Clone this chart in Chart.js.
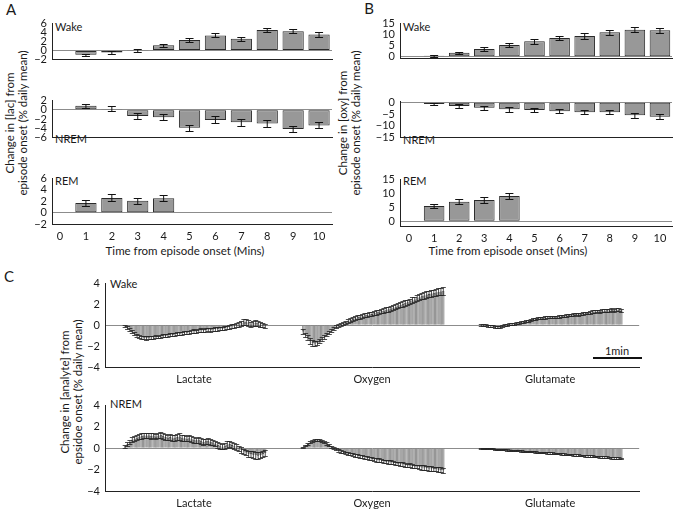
<!DOCTYPE html>
<html>
<head>
<meta charset="utf-8">
<script src="https://cdn.jsdelivr.net/npm/chart.js@4.4.1/dist/chart.umd.min.js"></script>
<style>
  body { margin: 0; background: #fff; }
  #fig { position: relative; width: 673px; height: 509px; overflow: hidden; font-family: Lato, sans-serif; color: #1a1a1a; }
  .t { position: absolute; font-size: 11px; line-height: 12px; white-space: nowrap; transform: translateY(-50%); }
  .c { position: absolute; font-size: 11px; line-height: 12px; white-space: nowrap; transform: translate(-50%, -50%); }
  .letter { font-size: 15px; line-height: 16px; }
  .ytitle { position: absolute; font-size: 11.5px; line-height: 12.5px; text-align: center; white-space: nowrap; transform: translate(-50%, -50%) rotate(-90deg); }
  canvas { position: absolute; }
</style>
</head>
<body>
<div id="fig">
  <div class="c letter" style="left:11px;top:9px">A</div>
  <div class="c letter" style="left:369px;top:8px">B</div>
  <div class="c letter" style="left:9px;top:276px">C</div>

  <div class="t" style="left:55px;top:27px">Wake</div>
  <div class="t" style="left:55px;top:139px">NREM</div>
  <div class="t" style="left:55px;top:181px">REM</div>
  <div class="t" style="left:403px;top:27px">Wake</div>
  <div class="t" style="left:403px;top:140px">NREM</div>
  <div class="t" style="left:403px;top:181px">REM</div>
  <div class="t" style="left:110px;top:284px">Wake</div>
  <div class="t" style="left:110px;top:404px">NREM</div>

  <div class="c" style="left:185px;top:251px;font-size:11.5px">Time from episode onset (Mins)</div>
  <div class="c" style="left:508px;top:251px;font-size:11.5px">Time from episode onset (Mins)</div>

  <div class="ytitle" style="left:16px;top:123px">Change in [lac] from<br>episode onset (% daily mean)</div>
  <div class="ytitle" style="left:349px;top:123px">Change in [oxy] from<br>episode onset (% daily mean)</div>
  <div class="ytitle" style="left:71px;top:392px">Change in [analyte] from<br>epsidoe onset (% daily mean)</div>

  <div class="c" style="left:617px;top:351px">1min</div>
  <div style="position:absolute;left:593px;top:357px;width:49px;height:2px;background:#111"></div>
</div>

<script>
Chart.defaults.font.family = 'Lato, sans-serif';
Chart.defaults.font.size = 11;
Chart.defaults.color = '#1a1a1a';

// --- panels A and B: minutes from episode onset
const minuteTicks = [0, 1, 2, 3, 4, 5, 6, 7, 8, 9, 10];
const minutes = [1, 2, 3, 4, 5, 6, 7, 8, 9, 10];
const remMinutes = [1, 2, 3, 4];

const lacWake = [-0.95, -0.45, -0.05, 1.15, 2.35, 3.35, 2.6, 4.55, 4.3, 3.55];
const lacWakeErr = [0.25, 0.3, 0.35, 0.35, 0.4, 0.45, 0.5, 0.4, 0.4, 0.5];
const lacNrem = [0.9, 0.2, -1.35, -1.6, -3.9, -2.2, -2.7, -3.0, -4.2, -3.4];
const lacNremErr = [0.45, 0.55, 0.55, 0.6, 0.65, 0.75, 0.8, 0.8, 0.7, 0.65];
const lacRem = [1.7, 2.6, 2.1, 2.55];
const lacRemErr = [0.55, 0.6, 0.5, 0.55];

const oxyWake = [0.5, 1.85, 3.5, 5.4, 7.0, 8.5, 9.4, 11.1, 12.2, 12.0];
const oxyWakeErr = [0.4, 0.5, 0.9, 0.9, 1.0, 1.0, 1.2, 1.2, 1.2, 1.2];
const oxyNrem = [-0.7, -1.6, -2.3, -3.0, -3.3, -3.8, -4.2, -4.2, -5.5, -6.2];
const oxyNremErr = [0.5, 0.7, 0.8, 1.0, 1.0, 0.9, 1.0, 0.9, 1.0, 1.0];
const oxyRem = [5.5, 7.0, 7.7, 9.1];
const oxyRemErr = [0.8, 0.9, 1.1, 1.0];

const lacTicksWake = [6, 4, 2, 0, -2];
const lacTicksNrem = [2, 0, -2, -4, -6];
const oxyTicksWake = [15, 10, 5, 0];
const oxyTicksNrem = [0, -5, -10, -15];

// --- panel C: time course after onset, one bar per sample
const groupNames = ['Lactate', 'Oxygen', 'Glutamate'];
const cTicks = [4, 2, 0, -2, -4];

const cWakeLac = [
  -0.1, -0.2, -0.4, -0.6, -0.8, -0.95, -1.05, -1.15, -1.2, -1.22,
  -1.2, -1.15, -1.17, -1.1, -1.12, -1.05, -1.0, -1.02, -0.95, -0.9,
  -0.92, -0.85, -0.8, -0.82, -0.75, -0.7, -0.72, -0.65, -0.6, -0.55,
  -0.6, -0.5, -0.45, -0.5, -0.45, -0.4, -0.45, -0.4, -0.35, -0.35,
  -0.3, -0.32, -0.25, -0.2, -0.15, -0.1, -0.05, 0.0, 0.1, 0.2,
  0.3, 0.35, 0.2, 0.1, 0.2, 0.25, 0.2, 0.1, 0.05, -0.05];
const cWakeLacErr = [
  0.1, 0.12, 0.12, 0.14, 0.14, 0.15, 0.15, 0.15, 0.15, 0.15,
  0.15, 0.15, 0.15, 0.15, 0.14, 0.14, 0.14, 0.14, 0.14, 0.14,
  0.14, 0.14, 0.14, 0.14, 0.14, 0.15, 0.15, 0.15, 0.15, 0.15,
  0.15, 0.15, 0.15, 0.15, 0.15, 0.15, 0.15, 0.15, 0.16, 0.16,
  0.16, 0.16, 0.17, 0.17, 0.18, 0.18, 0.2, 0.2, 0.22, 0.24,
  0.28, 0.3, 0.28, 0.25, 0.25, 0.28, 0.25, 0.22, 0.2, 0.2];

const cWakeOxy = [
  -0.6, -0.9, -1.2, -1.5, -1.7, -1.75, -1.7, -1.5, -1.3, -1.1,
  -0.9, -0.7, -0.5, -0.3, -0.15, 0.0, 0.1, 0.2, 0.3, 0.4,
  0.5, 0.62, 0.68, 0.8, 0.82, 0.9, 0.97, 0.98, 1.06, 1.08,
  1.2, 1.24, 1.3, 1.36, 1.4, 1.5, 1.54, 1.6, 1.7, 1.78,
  1.9, 1.98, 2.05, 2.15, 2.2, 2.3, 2.4, 2.48, 2.6, 2.7,
  2.78, 2.85, 2.95, 3.0, 3.05, 3.1, 3.15, 3.2, 3.25, 3.3];
const cWakeOxyErr = [
  0.2, 0.2, 0.25, 0.25, 0.25, 0.25, 0.22, 0.2, 0.2, 0.18,
  0.16, 0.15, 0.14, 0.14, 0.14, 0.14, 0.15, 0.15, 0.15, 0.16,
  0.16, 0.17, 0.17, 0.18, 0.18, 0.18, 0.19, 0.19, 0.2, 0.2,
  0.2, 0.21, 0.21, 0.22, 0.22, 0.22, 0.23, 0.23, 0.24, 0.24,
  0.25, 0.25, 0.26, 0.26, 0.27, 0.27, 0.28, 0.28, 0.29, 0.29,
  0.3, 0.3, 0.31, 0.31, 0.32, 0.32, 0.33, 0.33, 0.34, 0.35];

const cWakeGlu = [
  0.0, 0.05, 0.0, -0.05, -0.1, -0.1, -0.15, -0.2, -0.2, -0.1,
  0.0, 0.05, 0.1, 0.1, 0.15, 0.2, 0.25, 0.3, 0.32, 0.38,
  0.45, 0.5, 0.58, 0.62, 0.68, 0.7, 0.72, 0.75, 0.76, 0.78,
  0.8, 0.82, 0.82, 0.85, 0.9, 0.9, 0.95, 1.0, 1.0, 1.05,
  1.1, 1.05, 1.1, 1.15, 1.2, 1.2, 1.25, 1.3, 1.3, 1.35,
  1.35, 1.4, 1.4, 1.45, 1.45, 1.5, 1.45, 1.5, 1.5, 1.45];
const cWakeGluErr = [
  0.08, 0.08, 0.08, 0.09, 0.09, 0.1, 0.1, 0.1, 0.1, 0.1,
  0.1, 0.1, 0.1, 0.1, 0.1, 0.1, 0.1, 0.1, 0.1, 0.1,
  0.1, 0.1, 0.1, 0.1, 0.1, 0.1, 0.1, 0.1, 0.1, 0.1,
  0.11, 0.11, 0.11, 0.11, 0.11, 0.11, 0.11, 0.11, 0.11, 0.11,
  0.12, 0.12, 0.12, 0.12, 0.12, 0.12, 0.12, 0.12, 0.12, 0.12,
  0.13, 0.13, 0.13, 0.13, 0.13, 0.13, 0.13, 0.13, 0.13, 0.13];

const cNremLac = [
  0.2, 0.4, 0.6, 0.8, 0.9, 1.0, 1.1, 1.15, 1.2, 1.2,
  1.2, 1.15, 1.2, 1.1, 1.2, 1.25, 1.15, 1.05, 1.0, 1.05,
  0.95, 1.0, 1.05, 1.1, 1.0, 0.95, 0.9, 0.95, 0.85, 0.8,
  0.75, 0.8, 0.7, 0.6, 0.65, 0.7, 0.6, 0.55, 0.45, 0.3,
  0.2, 0.15, 0.25, 0.35, 0.4, 0.3, 0.2, 0.1, 0.0, -0.15,
  -0.3, -0.4, -0.5, -0.55, -0.6, -0.65, -0.7, -0.65, -0.55, -0.45];
const cNremLacErr = [
  0.15, 0.2, 0.2, 0.22, 0.22, 0.24, 0.24, 0.25, 0.25, 0.25,
  0.25, 0.26, 0.26, 0.26, 0.28, 0.3, 0.28, 0.26, 0.26, 0.26,
  0.26, 0.28, 0.3, 0.3, 0.28, 0.26, 0.26, 0.26, 0.26, 0.26,
  0.26, 0.26, 0.26, 0.26, 0.26, 0.28, 0.26, 0.26, 0.26, 0.26,
  0.26, 0.26, 0.28, 0.3, 0.32, 0.3, 0.28, 0.26, 0.26, 0.26,
  0.26, 0.26, 0.28, 0.3, 0.32, 0.32, 0.32, 0.3, 0.28, 0.26];

const cNremOxy = [
  0.1, 0.25, 0.4, 0.55, 0.65, 0.75, 0.8, 0.75, 0.7, 0.6,
  0.45, 0.3, 0.15, 0.0, -0.1, -0.2, -0.3, -0.35, -0.45, -0.5,
  -0.55, -0.6, -0.65, -0.7, -0.75, -0.8, -0.85, -0.9, -0.95, -1.0,
  -1.05, -1.1, -1.1, -1.15, -1.2, -1.25, -1.3, -1.3, -1.35, -1.4,
  -1.45, -1.5, -1.5, -1.55, -1.6, -1.6, -1.65, -1.7, -1.7, -1.75,
  -1.8, -1.8, -1.85, -1.9, -1.9, -1.95, -1.95, -2.0, -2.0, -2.05];
const cNremOxyErr = [
  0.06, 0.08, 0.08, 0.1, 0.1, 0.1, 0.1, 0.1, 0.1, 0.1,
  0.1, 0.1, 0.1, 0.1, 0.1, 0.11, 0.11, 0.11, 0.12, 0.12,
  0.12, 0.12, 0.13, 0.13, 0.13, 0.13, 0.14, 0.14, 0.14, 0.14,
  0.14, 0.15, 0.15, 0.15, 0.15, 0.15, 0.16, 0.16, 0.16, 0.16,
  0.16, 0.17, 0.17, 0.17, 0.17, 0.18, 0.18, 0.18, 0.18, 0.18,
  0.19, 0.19, 0.19, 0.2, 0.2, 0.2, 0.2, 0.21, 0.21, 0.22];

const cNremGlu = [
  0.0, 0.0, -0.02, -0.03, -0.05, -0.06, -0.08, -0.09, -0.11, -0.13,
  -0.14, -0.16, -0.17, -0.19, -0.2, -0.22, -0.23, -0.25, -0.27, -0.28,
  -0.3, -0.32, -0.33, -0.35, -0.36, -0.38, -0.4, -0.41, -0.43, -0.44,
  -0.46, -0.48, -0.5, -0.51, -0.53, -0.55, -0.56, -0.58, -0.6, -0.61,
  -0.63, -0.64, -0.66, -0.68, -0.7, -0.71, -0.73, -0.74, -0.76, -0.78,
  -0.8, -0.81, -0.83, -0.84, -0.86, -0.88, -0.89, -0.91, -0.93, -0.95];
const cNremGluErr = [
  0.04, 0.04, 0.04, 0.05, 0.05, 0.05, 0.05, 0.05, 0.05, 0.05,
  0.05, 0.05, 0.05, 0.05, 0.05, 0.06, 0.06, 0.06, 0.06, 0.06,
  0.06, 0.06, 0.06, 0.06, 0.06, 0.06, 0.06, 0.06, 0.06, 0.06,
  0.07, 0.07, 0.07, 0.07, 0.07, 0.07, 0.07, 0.07, 0.07, 0.07,
  0.07, 0.07, 0.07, 0.07, 0.07, 0.08, 0.08, 0.08, 0.08, 0.08,
  0.08, 0.08, 0.08, 0.08, 0.08, 0.08, 0.08, 0.08, 0.08, 0.08];

// empty slots before, between and after the three analytes in panel C
const lead = 8, gap = 15, tail = 7;

function spread(groups) {
  const out = Array(lead).fill(null);
  groups.forEach((g, k) => {
    out.push(...g);
    out.push(...Array(k < groups.length - 1 ? gap : tail).fill(null));
  });
  return out;
}
function groupLabels(groups) {
  const labels = spread(groups.map(g => g.map(() => '')));
  groups.forEach((g, k) => {
    labels[lead + Math.floor(g.length / 2) - 1 + k * (g.length + gap)] = groupNames[k];
  });
  return labels.map(l => l == null ? '' : l);
}

const errorBars = {
  id: 'errorBars',
  afterDatasetsDraw(chart) {
    const ds = chart.data.datasets[0];
    const meta = chart.getDatasetMeta(0);
    const y = chart.scales.y;
    const ctx = chart.ctx;
    ctx.save();
    ctx.strokeStyle = ds.errColor;
    ctx.lineWidth = ds.errWidth;
    meta.data.forEach((bar, i) => {
      const raw = ds.data[i];
      const v = raw && typeof raw === 'object' ? raw.y : raw;
      const e = ds.errors[i];
      if (v == null || e == null) return;
      const x = bar.x;
      const hi = Math.round(y.getPixelForValue(v + e)) + 0.5;
      const lo = Math.round(y.getPixelForValue(v - e)) + 0.5;
      const c = ds.cap / 2;
      ctx.beginPath();
      ctx.moveTo(x, hi); ctx.lineTo(x, lo);
      ctx.moveTo(x - c, hi); ctx.lineTo(x + c, hi);
      ctx.moveTo(x - c, lo); ctx.lineTo(x + c, lo);
      ctx.stroke();
    });
    ctx.restore();
  }
};

function valueAxis(min, max, ticks, yW) {
  return {
    min: min,
    max: max,
    afterBuildTicks: s => { s.ticks = ticks.map(v => ({ value: v })); },
    afterFit: s => { s.width = yW; },
    grid: {
      drawTicks: false,
      lineWidth: 1,
      color: c => (c.tick && c.tick.value === 0) ? '#8c8c8c' : 'rgba(0,0,0,0)'
    },
    border: { display: true, color: '#222', width: 1 },
    ticks: { padding: 5, autoSkip: false, callback: v => String(v).replace('-', '\u2212') }
  };
}

function minuteAxis(min, max, showLabels, xH) {
  return {
    type: 'linear',
    min: min,
    max: max,
    offset: false,
    afterBuildTicks: s => { s.ticks = minuteTicks.map(v => ({ value: v })); },
    afterFit: s => { s.height = xH; },
    grid: { display: false, drawTicks: false },
    border: { display: true, color: '#222', width: 1 },
    ticks: { display: showLabels, padding: 6, autoSkip: false, maxRotation: 0, callback: v => String(v) }
  };
}

function makePlot(box, data, xScale, yScale) {
  const left = box.l - box.yW, top = box.t - box.pt;
  const w = box.r + box.pr - left, h = box.b + box.xH + box.pb - top;
  const cv = document.createElement('canvas');
  cv.width = w;
  cv.height = h;
  cv.style.left = left + 'px';
  cv.style.top = top + 'px';
  cv.style.width = w + 'px';
  cv.style.height = h + 'px';
  document.getElementById('fig').appendChild(cv);
  return new Chart(cv, {
    type: 'bar',
    data: data,
    options: {
      responsive: false,
      animation: false,
      devicePixelRatio: 1,
      layout: { padding: { left: 0, top: box.pt, right: box.pr, bottom: box.pb } },
      plugins: { legend: { display: false }, tooltip: { enabled: false } },
      scales: { x: xScale, y: yScale }
    },
    plugins: [errorBars]
  });
}

function minuteBars(xs, vals, errs) {
  return {
    datasets: [{
      data: xs.map((m, i) => ({ x: m, y: vals[i] })),
      errors: errs,
      cap: 8,
      errColor: '#111',
      errWidth: 1,
      backgroundColor: '#989898',
      borderColor: '#2a2a2a',
      borderWidth: 1,
      borderSkipped: false,
      categoryPercentage: 1,
      barPercentage: 0.82
    }]
  };
}

function sampleBars(groups, errGroups) {
  return {
    labels: groupLabels(groups),
    datasets: [{
      data: spread(groups),
      errors: spread(errGroups),
      cap: 5,
      errColor: '#222',
      errWidth: 0.8,
      backgroundColor: '#a3a3a3',
      borderColor: '#3a3a3a',
      borderWidth: 0.6,
      categoryPercentage: 1,
      barPercentage: 0.95
    }]
  };
}

// panel A: lactate
makePlot({ l: 52, t: 20, r: 332, b: 69, yW: 40, pt: 8, pr: 6, xH: 0, pb: 2 },
  minuteBars(minutes, lacWake, lacWakeErr),
  minuteAxis(-0.31, 10.5, false, 0), valueAxis(-2, 6, lacTicksWake, 40));
makePlot({ l: 52, t: 97, r: 332, b: 147, yW: 40, pt: 8, pr: 6, xH: 0, pb: 2 },
  minuteBars(minutes, lacNrem, lacNremErr),
  minuteAxis(-0.31, 10.5, false, 0), valueAxis(-6, 2, lacTicksNrem, 40));
makePlot({ l: 52, t: 175, r: 332, b: 224, yW: 40, pt: 8, pr: 6, xH: 20, pb: 2 },
  minuteBars(remMinutes, lacRem, lacRemErr),
  minuteAxis(-0.31, 10.5, true, 20), valueAxis(-2, 6, lacTicksWake, 40));

// panel B: oxygen
makePlot({ l: 400, t: 20, r: 672, b: 68, yW: 40, pt: 8, pr: 1, xH: 0, pb: 2 },
  minuteBars(minutes, oxyWake, oxyWakeErr),
  minuteAxis(-0.36, 10.48, false, 0), valueAxis(-0.7, 15, oxyTicksWake, 40));
makePlot({ l: 400, t: 98, r: 672, b: 147, yW: 40, pt: 8, pr: 1, xH: 0, pb: 2 },
  minuteBars(minutes, oxyNrem, oxyNremErr),
  minuteAxis(-0.36, 10.48, false, 0), valueAxis(-15, 0.3, oxyTicksNrem, 40));
makePlot({ l: 400, t: 176, r: 672, b: 226, yW: 40, pt: 8, pr: 1, xH: 20, pb: 2 },
  minuteBars(remMinutes, oxyRem, oxyRemErr),
  minuteAxis(-0.36, 10.48, true, 20), valueAxis(-1.7, 15, oxyTicksWake, 40));

// panel C: lactate, oxygen, glutamate time courses
const cAxis = {
  type: 'category',
  offset: true,
  afterFit: s => { s.height = 22; },
  grid: { display: false, drawTicks: false },
  border: { display: true, color: '#222', width: 1 },
  ticks: { autoSkip: false, maxRotation: 0, minRotation: 0, padding: 6 }
};
makePlot({ l: 105, t: 280, r: 640, b: 367, yW: 40, pt: 8, pr: 4, xH: 22, pb: 2 },
  sampleBars([cWakeLac, cWakeOxy, cWakeGlu], [cWakeLacErr, cWakeOxyErr, cWakeGluErr]),
  cAxis, valueAxis(-4, 4, cTicks, 40));
makePlot({ l: 105, t: 402, r: 640, b: 491, yW: 40, pt: 8, pr: 4, xH: 22, pb: 2 },
  sampleBars([cNremLac, cNremOxy, cNremGlu], [cNremLacErr, cNremOxyErr, cNremGluErr]),
  cAxis, valueAxis(-4, 4, cTicks, 40));
</script>
</body>
</html>
